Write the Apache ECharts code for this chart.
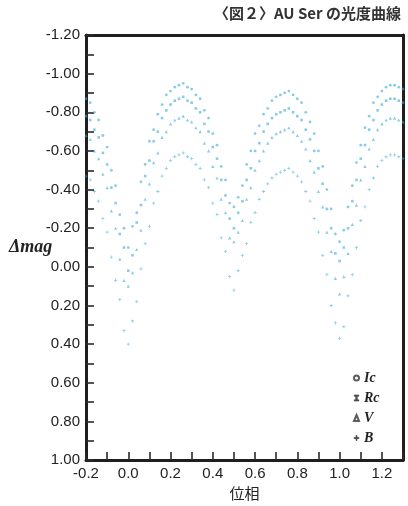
<!DOCTYPE html>
<html>
<head>
<meta charset="utf-8">
<script src="https://cdn.jsdelivr.net/npm/echarts@6/dist/echarts.min.js"></script>
<style>
html,body{margin:0;padding:0;background:#fff;}
#chart{width:408px;height:506px;}
</style>
</head>
<body>
<div id="chart"></div>
<script>
// Title and axis texts
const titleText = '〈図２〉AU Ser の光度曲線';
const xAxisName = '位相';
const yAxisName = 'Δmag';
const seriesNames = ['Ic', 'Rc', 'V', 'B'];

// Phase values (shared by all four filters)
const phase = [-0.20,-0.18,-0.16,-0.14,-0.12,-0.10,-0.08,-0.06,-0.04,-0.02,
  0.00,0.02,0.04,0.06,0.08,0.10,0.12,0.14,0.16,0.18,0.20,0.22,0.24,
  0.26,0.28,0.30,0.32,0.34,0.36,0.38,0.40,0.42,0.44,0.46,0.48,
  0.50,0.52,0.54,0.56,0.58,0.60,0.62,0.64,0.66,0.68,0.70,0.72,0.74,
  0.76,0.78,0.80,0.82,0.84,0.86,0.88,0.90,0.92,0.94,0.96,0.98,
  1.00,1.02,1.04,1.06,1.08,1.10,1.12,1.14,1.16,1.18,1.20,1.22,1.24,
  1.26,1.28,1.30];

// Δmag per filter
const magIc = [-0.87,-0.85,-0.80,-0.76,-0.68,-0.62,-0.50,-0.42,-0.27,-0.20,
  -0.10,
  -0.21,-0.28,-0.44,-0.53,-0.65,-0.71,-0.79,-0.84,-0.89,-0.91,-0.93,-0.94,
  -0.95,-0.93,-0.92,-0.89,-0.87,-0.81,-0.77,-0.69,-0.63,-0.52,-0.45,-0.33,
  -0.31,
  -0.36,-0.42,-0.53,-0.60,-0.69,-0.73,-0.79,-0.82,-0.86,-0.88,-0.89,-0.90,
  -0.91,-0.89,-0.87,-0.85,-0.80,-0.75,-0.69,-0.60,-0.52,-0.40,-0.30,-0.17,
  -0.13,
  -0.19,-0.31,-0.42,-0.54,-0.63,-0.72,-0.78,-0.85,-0.88,-0.91,-0.93,-0.94,
  -0.94,-0.93,-0.92];

const magRc = [-0.78,-0.76,-0.71,-0.67,-0.59,-0.53,-0.41,-0.33,-0.17,-0.10,
  0.02,
  -0.06,-0.23,-0.32,-0.47,-0.55,-0.65,-0.70,-0.77,-0.81,-0.84,-0.86,-0.87,
  -0.88,-0.86,-0.85,-0.82,-0.80,-0.74,-0.70,-0.62,-0.56,-0.45,-0.37,-0.25,
  -0.20,
  -0.28,-0.34,-0.45,-0.51,-0.60,-0.64,-0.70,-0.74,-0.77,-0.79,-0.80,-0.81,
  -0.82,-0.80,-0.78,-0.76,-0.71,-0.66,-0.60,-0.51,-0.43,-0.30,-0.20,-0.07,
  -0.03,
  -0.10,-0.20,-0.34,-0.45,-0.56,-0.63,-0.71,-0.76,-0.81,-0.84,-0.86,-0.87,
  -0.87,-0.86,-0.85];

const magV = [-0.68,-0.66,-0.60,-0.56,-0.48,-0.41,-0.29,-0.20,-0.04,0.07,
  0.10,
  0.03,-0.09,-0.19,-0.35,-0.43,-0.54,-0.59,-0.67,-0.70,-0.74,-0.76,-0.77,
  -0.78,-0.76,-0.75,-0.72,-0.70,-0.64,-0.60,-0.52,-0.46,-0.35,-0.28,-0.15,
  -0.13,
  -0.18,-0.24,-0.35,-0.41,-0.50,-0.55,-0.60,-0.64,-0.67,-0.69,-0.70,-0.71,
  -0.72,-0.70,-0.68,-0.65,-0.61,-0.55,-0.49,-0.39,-0.31,-0.18,-0.08,0.06,
  0.14,
  0.05,-0.07,-0.22,-0.32,-0.45,-0.52,-0.61,-0.66,-0.71,-0.74,-0.76,-0.77,
  -0.77,-0.76,-0.75];

const magB = [-0.47,-0.45,-0.39,-0.34,-0.25,-0.18,-0.05,0.07,0.17,0.33,
  0.40,
  0.28,0.18,0.01,-0.12,-0.21,-0.33,-0.39,-0.47,-0.51,-0.55,-0.57,-0.58,
  -0.59,-0.57,-0.56,-0.53,-0.51,-0.45,-0.41,-0.33,-0.27,-0.15,-0.08,0.05,
  0.12,
  0.02,-0.06,-0.12,-0.23,-0.28,-0.35,-0.39,-0.43,-0.46,-0.48,-0.49,-0.50,
  -0.51,-0.49,-0.47,-0.44,-0.39,-0.34,-0.25,-0.18,-0.06,0.04,0.20,0.29,
  0.37,
  0.31,0.15,0.04,-0.10,-0.24,-0.31,-0.40,-0.46,-0.52,-0.55,-0.57,-0.58,
  -0.58,-0.57,-0.56];

// Axis ranges / label steps
const xMin = -0.2, xMax = 1.3, xStep = 0.2;
const yMin = -1.2, yMax = 1.0, yStep = 0.2;

const mags = [magIc, magRc, magV, magB];
const symbols = ['circle', 'rect', 'triangle', 'path://M3,0h2v3h3v2h-3v3h-2v-3h-3v-2h3z'];
const sizes = [2.8, 2.6, 3.2, 3.2];
const legendIcons = ['emptyCircle', 'path://M0,0h6v1.6h-2v4.8h2v1.6h-6v-1.6h2v-4.8h-2z', 'emptyTriangle', 'path://M3,0h1.4v3.3h3.3v1.4h-3.3v3.3h-1.4v-3.3h-3.3v-1.4h3.3z'];

const chart = echarts.init(document.getElementById('chart'));

const AXIS = '#1e1e1e';
const TICK = '#2a2a2a';
const frameAxis = {
  show: true,
  axisLine: {show: true, onZero: false, lineStyle: {color: AXIS, width: 3}},
  axisTick: {show: false},
  axisLabel: {show: false},
  splitLine: {show: false}
};

chart.setOption({
  backgroundColor: '#ffffff',
  animation: false,
  title: {
    text: titleText,
    right: 2,
    top: 1,
    textStyle: {fontFamily: '"Noto Sans CJK JP", sans-serif', fontSize: 15, fontWeight: 'bold', color: '#333'}
  },
  grid: {left: 86, right: 5, top: 35, bottom: 44},
  graphic: [{
    type: 'text',
    left: 9,
    top: 238,
    style: {text: yAxisName, font: 'italic bold 18px "Liberation Serif", serif', fill: '#222'}
  }],
  legend: {
    orient: 'vertical',
    left: 348,
    top: 366,
    itemWidth: 5,
    itemHeight: 6,
    itemGap: 6,
    textStyle: {fontFamily: '"Liberation Serif", serif', fontStyle: 'italic', fontWeight: 'bold', fontSize: 14, color: '#222'},
    data: seriesNames.map((n, i) => ({
      name: n,
      icon: legendIcons[i],
      itemStyle: {color: '#333', borderColor: '#333', borderWidth: 0.8}
    }))
  },
  xAxis: [{
    type: 'value',
    position: 'bottom',
    min: xMin, max: xMax, interval: xStep,
    name: xAxisName,
    nameLocation: 'middle',
    nameGap: 25,
    nameTextStyle: {fontFamily: '"Noto Sans CJK JP", sans-serif', fontSize: 15, color: '#222'},
    axisLine: {show: true, onZero: false, lineStyle: {color: AXIS, width: 3}},
    axisTick: {show: true, inside: true, length: 8, lineStyle: {color: TICK, width: 1.6}},
    minorTick: {show: true, splitNumber: 2, length: 8, lineStyle: {color: TICK, width: 1.6}},
    axisLabel: {
      margin: 6, showMaxLabel: false,
      fontFamily: '"Liberation Sans", Arial, sans-serif', fontSize: 15, color: '#222',
      formatter: v => v.toFixed(1)
    },
    splitLine: {show: false},
    minorSplitLine: {show: false}
  }, Object.assign({type: 'value', position: 'top', min: xMin, max: xMax}, frameAxis)],
  yAxis: [{
    type: 'value',
    position: 'left',
    inverse: true,
    min: yMin, max: yMax, interval: yStep,
    axisLine: {show: true, onZero: false, lineStyle: {color: AXIS, width: 3}},
    axisTick: {show: true, inside: true, length: 8, lineStyle: {color: TICK, width: 1.6}},
    minorTick: {show: true, splitNumber: 2, length: 8, lineStyle: {color: TICK, width: 1.6}},
    axisLabel: {
      margin: 6,
      fontFamily: '"Liberation Sans", Arial, sans-serif', fontSize: 15, color: '#222',
      formatter: v => v.toFixed(2)
    },
    splitLine: {show: false},
    minorSplitLine: {show: false}
  }, Object.assign({type: 'value', position: 'right', inverse: true, min: yMin, max: yMax}, frameAxis)],
  series: seriesNames.map((n, i) => ({
    name: n,
    type: 'scatter',
    symbol: symbols[i],
    symbolSize: sizes[i],
    itemStyle: {color: 'rgba(60,168,215,0.75)'},
    data: phase.map((p, k) => [p, mags[i][k]])
  }))
});
</script>
</body>
</html>
